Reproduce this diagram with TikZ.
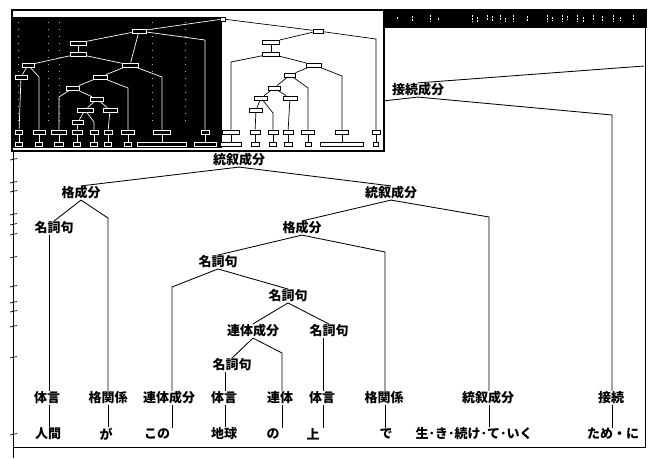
\documentclass[tikz,border=0pt]{standalone}
\usepackage{fontspec}
\newfontfamily\jp{Noto Sans CJK JP}
\begin{document}
\begin{tikzpicture}[x=1pt,y=-1pt,
  lbl/.style={font=\jp\bfseries\fontsize{13}{13}\selectfont, inner sep=0.5pt},
  ln/.style={line width=0.85pt},
  wb/.style={draw=black, fill=white, line width=0.7pt, inner sep=0pt, minimum height=4pt, minimum width=#1},
  wb/.default=12pt,
  bb/.style={draw=white, fill=black, line width=0.7pt, inner sep=0pt, minimum height=4pt, minimum width=#1},
  bb/.default=12pt,
  mw/.style={white, line width=0.7pt},
  mk/.style={black, line width=0.7pt}]
\useasboundingbox (0,0) rectangle (655,458);
\fill[white] (0,0) rectangle (655,458);

% ---------- main tree labels ----------
\node[lbl] (sz) at (418,90) {接続成分};
\node[lbl] (r)  at (239,160) {統叙成分};
\node[lbl] (k1) at (81,193) {格成分};
\node[lbl] (t2) at (391,193) {統叙成分};
\node[lbl] (n1) at (54,228) {名詞句};
\node[lbl] (k2) at (302,228) {格成分};
\node[lbl] (n2) at (218,262) {名詞句};
\node[lbl] (n3) at (288,296) {名詞句};
\node[lbl] (rt) at (253,331) {連体成分};
\node[lbl] (n5) at (329,331) {名詞句};
\node[lbl] (n4) at (232,365) {名詞句};
% categories
\node[lbl] (c1) at (47,398) {体言};
\node[lbl] (c2) at (108,398) {格関係};
\node[lbl] (c3) at (169,398) {連体成分};
\node[lbl] (c4) at (224,398) {体言};
\node[lbl] (c5) at (280,398) {連体};
\node[lbl] (c6) at (322,398) {体言};
\node[lbl] (c7) at (384,398) {格関係};
\node[lbl] (c8) at (488,398) {統叙成分};
\node[lbl] (c9) at (611,398) {接続};
% words
\node[lbl] (w1) at (48,434) {人間};
\node[lbl] (w2) at (106,434) {が};
\node[lbl] (w3) at (157,434) {この};
\node[lbl] (w4) at (224,434) {地球};
\node[lbl] (w5) at (273,434) {の};
\node[lbl] (w6) at (313,434) {上};
\node[lbl] (w7) at (386,434) {で};
\node[lbl] (w8) at (474,434) {生･き･続け･て･いく};
\node[lbl] (w9) at (613,434) {ため・に};

% column x positions
\coordinate (x1) at (49,0);
\coordinate (x2) at (108,0);
\coordinate (x3) at (172,0);
\coordinate (x4) at (225,0);
\coordinate (x5) at (282,0);
\coordinate (x6) at (323,0);
\coordinate (x7) at (385,0);
\coordinate (x8) at (489,0);
\coordinate (x9) at (612,0);
% corners
\coordinate (szp) at (644,66);
\coordinate (szl) at (239,117);
\coordinate (szr) at (612,115);
\coordinate (k1r) at (108,218);
\coordinate (t2r) at (489,217);
\coordinate (k2r) at (385,252);
\coordinate (n2l) at (172,287);
\coordinate (rtr) at (282,353);

\begin{scope}[ln]
\draw (sz.north) -- (szp);
\draw (sz.south) -- (szl) -- (r.north -| szl);
\draw (sz.south) -- (szr) -- (c9.north -| szr);
\draw (r.south) -- (k1.north);
\draw (r.south) -- (t2.north);
\draw (k1.south) -- (n1.north);
\draw (k1.south) -- (k1r) -- (c2.north -| k1r);
\draw (t2.south) -- (k2.north);
\draw (t2.south) -- (t2r) -- (c8.north -| t2r);
\draw (k2.south) -- (n2.north);
\draw (k2.south) -- (k2r) -- (c7.north -| k2r);
\draw (n2.south) -- (n2l) -- (c3.north -| n2l);
\draw (n2.south) -- (n3.north);
\draw (n3.south) -- (rt.north);
\draw (n3.south) -- (n5.north);
\draw (rt.south) -- (n4.north);
\draw (rt.south) -- (rtr) -- (c5.north -| rtr);
\draw (n1.south -| x1) -- (c1.north -| x1);
\draw (n4.south -| x4) -- (c4.north -| x4);
\draw (n5.south -| x6) -- (c6.north -| x6);
% category to word
\draw (c1.south -| x1) -- (w1.north -| x1);
\draw (c2.south -| x2) -- (w2.north -| x2);
\draw (c3.south -| x3) -- (w3.north -| x3);
\draw (c4.south -| x4) -- (w4.north -| x4);
\draw (c5.south -| x5) -- (w5.north -| x5);
\draw (c6.south -| x6) -- (w6.north -| x6);
\draw (c7.south -| x7) -- (w7.north -| x7);
\draw (c8.south -| x8) -- (w8.north -| x8);
\draw (c9.south -| x9) -- (w9.north -| x9);
\end{scope}

% ---------- main window frame ----------
\draw[line width=1pt] (13,151) -- (13,458);
\draw[line width=1pt] (13,447) -- (645,447) -- (645,28);
\foreach \yy in {160,183,192,215,225,235,258,287,303,312,327,358,435}
  \draw[line width=0.7pt] (10,\yy) -- (17,\yy-1.5);
% title bar
\fill[black] (384,9) rectangle (647,28);
\foreach \xx/\ya/\yb in {397/17/20,412/16/21,430/15/22,438/18/21,472/15/22,477/17/22,487/15/20,492/16/22,500/15/21,505/18/22,513/15/22,527/16/21,547/15/22,552/17/21,562/15/22,567/16/20,577/15/22,583/17/22,593/15/21,602/16/22,613/15/22,620/17/21,633/15/20}
  \draw[white, line width=0.6pt, dash pattern=on 2pt off 1pt] (\xx,\ya) -- (\xx,\yb);

% ---------- overview thumbnail ----------
\fill[white] (12,10) rectangle (384,151);
\fill[black] (13,17) rectangle (222,148);
\draw[line width=2.5pt] (12,10) rectangle (384,151);
\foreach \xx in {18,48,59,152,185}
  \draw[white, line width=0.6pt, dash pattern=on 1pt off 6pt, opacity=0.7] (\xx,22) -- (\xx,125);

% root of overview
\node[wb=5pt, minimum height=4pt] (m0) at (223,19) {};
% black (left) part, white lines
\node[bb=14pt] (mA) at (139,31) {};
\node[bb=16pt] (mB) at (78,43) {};
\node[bb=16pt] (mC) at (78,54) {};
\node[bb=12pt] (mD) at (28,65) {};
\node[bb=16pt] (mE) at (130,65) {};
\node[bb=12pt] (mF) at (21,77) {};
\node[bb=14pt] (mG) at (100,77) {};
\node[bb=13pt] (mH) at (73,88) {};
\node[bb=13pt] (mI) at (97,99) {};
\node[bb=16pt] (mJ) at (85,110) {};
\node[bb=14pt] (mK) at (110,110) {};
\node[bb=11pt] (mL) at (78,122) {};
\foreach \n/\xx/\wa/\wl in {1/19/7/7, 2/39/12/7, 3/59/15/9, 4/77/10/7, 5/94/8/7, 6/108/8/7, 7/128/13/7, 8/162/17/49, 9/205/8/22} {
  \node[bb=\wa pt] (bl\n) at (\xx,132) {};
  \node[bb=\wl pt] (bw\n) at (\xx,144) {};
  \draw[mw] (bl\n) -- (bw\n);
}
\coordinate (mAr) at (205,40);
\coordinate (mDr) at (39,77);
\coordinate (mEr) at (162,77);
\coordinate (mGr) at (128,88);
\coordinate (mHl) at (59,97);
\coordinate (mJr) at (94,122);
\begin{scope}[mw]
\draw (m0) -- (mA);
\draw (mA) -- (mB);
\draw (mA) -- (mAr) -- (bl9);
\draw (mA) -- (mE);
\draw (mB) -- (mC);
\draw (mC) -- (mD);
\draw (mC) -- (mE);
\draw (mD) -- (mF);
\draw (mD) -- (mDr) -- (bl2);
\draw (mF) -- (bl1);
\draw (mE) -- (mG);
\draw (mE) -- (mEr) -- (bl8);
\draw (mG) -- (mH);
\draw (mG) -- (mGr) -- (bl7);
\draw (mH) -- (mHl) -- (bl3);
\draw (mH) -- (mI);
\draw (mI) -- (mJ);
\draw (mI) -- (mK);
\draw (mJ) -- (mL);
\draw (mJ) -- (mJr) -- (bl5);
\draw (mL) -- (bl4);
\draw (mK) -- (bl6);
\end{scope}

% white (right) part, black lines
\node[wb=10pt] (v1) at (318,31) {};
\node[wb=17pt] (v2) at (271,42) {};
\node[wb=17pt] (v3) at (271,54) {};
\node[wb=15pt] (v4) at (314,65) {};
\node[wb=11pt] (v5) at (290,75) {};
\node[wb=12pt] (v6) at (274,88) {};
\node[wb=13pt] (v7) at (261,98) {};
\node[wb=14pt] (v8) at (290,98) {};
\node[wb=13pt] (v9) at (256,110) {};
\foreach \n/\xx/\wa/\wl in {1/231/17/21, 2/255/10/8, 3/273/10/7, 4/288/10/8, 5/308/13/6, 6/342/13/43, 7/376/8/5} {
  \node[wb=\wa pt] (wl\n) at (\xx,132) {};
  \node[wb=\wl pt] (ww\n) at (\xx,144) {};
  \draw[mk] (wl\n) -- (ww\n);
}
\coordinate (v1r) at (376,39);
\coordinate (v3l) at (231,62);
\coordinate (v4r) at (342,76);
\coordinate (v5r) at (308,88);
\coordinate (v7r) at (273,113);
\begin{scope}[mk]
\draw (m0) -- (v1);
\draw (v1) -- (v2);
\draw (v1) -- (v1r) -- (wl7);
\draw (v2) -- (v3);
\draw (v3) -- (v3l) -- (wl1);
\draw (v3) -- (v4);
\draw (v4) -- (v5);
\draw (v4) -- (v4r) -- (wl6);
\draw (v5) -- (v6);
\draw (v5) -- (v5r) -- (wl5);
\draw (v6) -- (v7);
\draw (v6) -- (v8);
\draw (v7) -- (v9);
\draw (v7) -- (v7r) -- (wl3);
\draw (v9) -- (wl2);
\draw (v8) -- (wl4);
\end{scope}
\end{tikzpicture}
\end{document}
